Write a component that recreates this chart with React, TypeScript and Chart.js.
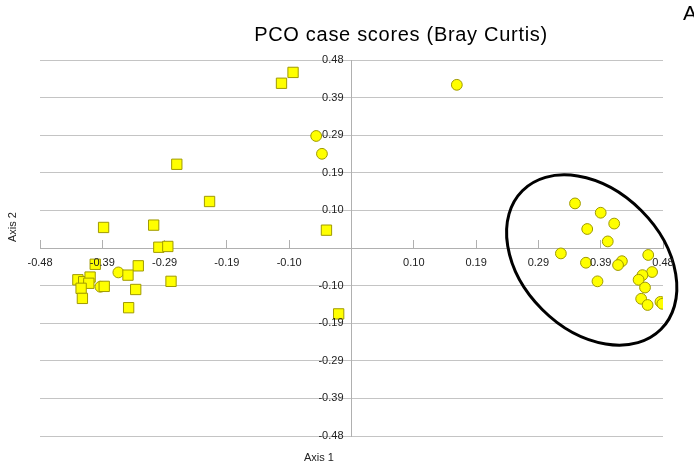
import React, { useEffect, useRef } from 'react';
import { Chart, registerables } from 'chart.js';

Chart.register(...registerables);

const TITLE = 'PCO case scores (Bray Curtis)';
const PANEL_LETTER = 'A';
const X_AXIS_TITLE = 'Axis 1';
const Y_AXIS_TITLE = 'Axis 2';

const AXIS_LIMIT = 0.485;
const TICK_VALUES = [-0.485, -0.388, -0.291, -0.194, -0.097, 0.097, 0.194, 0.291, 0.388, 0.485];
const TICK_LABELS = ['-0.48', '-0.39', '-0.29', '-0.19', '-0.10', '0.10', '0.19', '0.29', '0.39', '0.48'];

// Group 1 (squares)
const squareX = [
  -0.091, -0.109, -0.039, -0.020, -0.272, -0.221, -0.386, -0.308, -0.300, -0.286,
  -0.399, -0.332, -0.348, -0.426, -0.417, -0.407, -0.409, -0.421, -0.385, -0.336,
  -0.281, -0.419, -0.347,
];
const squareY = [
  0.453, 0.425, 0.046, -0.170, 0.216, 0.120, 0.053, 0.059, 0.002, 0.004,
  -0.042, -0.046, -0.070, -0.082, -0.087, -0.075, -0.091, -0.104, -0.099, -0.107,
  -0.086, -0.130, -0.154,
];

// Group 2 (circles)
const circleX = [
  -0.363, -0.391, -0.055, -0.046, 0.164,
  0.348, 0.388, 0.409, 0.367, 0.399, 0.326, 0.462, 0.365, 0.421, 0.415,
  0.468, 0.453, 0.447, 0.383, 0.457, 0.451, 0.461, 0.481, 0.484,
];
const circleY = [
  -0.063, -0.100, 0.289, 0.243, 0.421,
  0.115, 0.091, 0.063, 0.049, 0.017, -0.014, -0.018, -0.038, -0.034, -0.044,
  -0.062, -0.070, -0.082, -0.086, -0.102, -0.131, -0.147, -0.139, -0.144,
];

// Ellipse enclosing the right-hand cluster (centre in data units)
const ELLIPSE_CENTER_X = 0.374;
const ELLIPSE_CENTER_Y = -0.031;

const FONT = '"Liberation Sans", Arial, Helvetica, sans-serif';
const POINT_FILL = '#ffff00';
const POINT_BORDER = '#a09a00';
const GRID_COLOR = '#c4c4c4';
const AXIS_COLOR = '#b0b0b0';

const overlayPlugin = {
  id: 'overlay',
  afterDatasetsDraw(chart: any) {
    const { ctx, scales } = chart;
    const x = scales.x;
    const y = scales.y;
    ctx.save();
    // ellipse
    const cx = x.getPixelForValue(ELLIPSE_CENTER_X);
    const cy = y.getPixelForValue(ELLIPSE_CENTER_Y);
    ctx.beginPath();
    ctx.ellipse(cx, cy, 98, 70, Math.PI / 4, 0, Math.PI * 2);
    ctx.lineWidth = 3;
    ctx.strokeStyle = '#000';
    ctx.stroke();

    // tick labels
    const x0 = x.getPixelForValue(0);
    const y0 = y.getPixelForValue(0);
    ctx.font = '11px ' + FONT;
    ctx.fillStyle = '#222';
    ctx.textAlign = 'center';
    ctx.textBaseline = 'middle';
    x.ticks.forEach((t: any) => {
      const idx = TICK_VALUES.indexOf(t.value);
      if (idx < 0) return;
      ctx.fillText(TICK_LABELS[idx], x.getPixelForValue(t.value), y0 + 15);
    });
    ctx.textAlign = 'right';
    y.ticks.forEach((t: any) => {
      const idx = TICK_VALUES.indexOf(t.value);
      if (idx < 0) return;
      ctx.fillText(TICK_LABELS[idx], x0 - 8, y.getPixelForValue(t.value));
    });
    ctx.restore();
  },
  afterDraw(chart: any) {
    const { ctx, chartArea } = chart;
    ctx.save();
    ctx.fillStyle = '#000';
    ctx.font = '20px ' + FONT;
    try { (ctx as any).letterSpacing = '0.7px'; } catch (e) { /* ignore */ }
    ctx.textAlign = 'center';
    ctx.textBaseline = 'alphabetic';
    ctx.fillText(TITLE, chartArea.left + 361, 41);
    try { (ctx as any).letterSpacing = '0px'; } catch (e) { /* ignore */ }

    ctx.font = '21px ' + FONT;
    ctx.textAlign = 'left';
    ctx.textBaseline = 'top';
    ctx.fillText(PANEL_LETTER, 683, 4);

    ctx.font = '11px ' + FONT;
    ctx.fillStyle = '#222';
    ctx.textAlign = 'center';
    ctx.textBaseline = 'middle';
    ctx.fillText(X_AXIS_TITLE, 319, 458);

    ctx.translate(13, 227);
    ctx.rotate(-Math.PI / 2);
    ctx.fillText(Y_AXIS_TITLE, 0, 0);
    ctx.restore();
  },
};

export default function App() {
  const canvasRef = useRef<HTMLCanvasElement | null>(null);

  useEffect(() => {
    if (!canvasRef.current) return;
    const setTicks = (scale: any) => {
      scale.ticks = TICK_VALUES.map((v) => ({ value: v }));
    };
    const chart = new Chart(canvasRef.current, {
      type: 'scatter',
      data: {
        datasets: [
          {
            label: 'Group 1',
            data: squareX.map((v, i) => ({ x: v, y: squareY[i] })),
            pointStyle: 'rect',
            pointRadius: 7.3,
            backgroundColor: POINT_FILL,
            borderColor: POINT_BORDER,
            borderWidth: 1,
          },
          {
            label: 'Group 2',
            data: circleX.map((v, i) => ({ x: v, y: circleY[i] })),
            pointStyle: 'circle',
            pointRadius: 5.4,
            backgroundColor: POINT_FILL,
            borderColor: POINT_BORDER,
            borderWidth: 1,
          },
        ],
      },
      options: {
        responsive: false,
        animation: false,
        events: [],
        layout: { padding: { left: 40, right: 31, top: 60, bottom: 28 } },
        plugins: {
          legend: { display: false },
          tooltip: { enabled: false },
          title: { display: false },
        },
        scales: {
          x: {
            type: 'linear',
            position: { y: 0 },
            min: -AXIS_LIMIT,
            max: AXIS_LIMIT,
            afterBuildTicks: setTicks,
            ticks: { display: false, autoSkip: false, maxRotation: 0 },
            grid: {
              drawOnChartArea: false,
              drawTicks: true,
              tickLength: -9,
              color: AXIS_COLOR,
              lineWidth: 1,
            },
            border: { display: true, color: AXIS_COLOR, width: 1 },
          },
          y: {
            type: 'linear',
            position: { x: 0 },
            min: -AXIS_LIMIT,
            max: AXIS_LIMIT,
            afterBuildTicks: setTicks,
            ticks: { display: false, autoSkip: false },
            grid: {
              drawOnChartArea: true,
              drawTicks: false,
              color: GRID_COLOR,
              lineWidth: 1,
            },
            border: { display: true, color: AXIS_COLOR, width: 1 },
          },
        },
      },
      plugins: [overlayPlugin],
    } as any);
    return () => chart.destroy();
  }, []);

  return (
    <div style={{ position: 'fixed', left: 0, top: 0, width: 694, height: 464, background: '#fff' }}>
      <canvas ref={canvasRef} width={694} height={464} style={{ display: 'block' }} />
    </div>
  );
}
